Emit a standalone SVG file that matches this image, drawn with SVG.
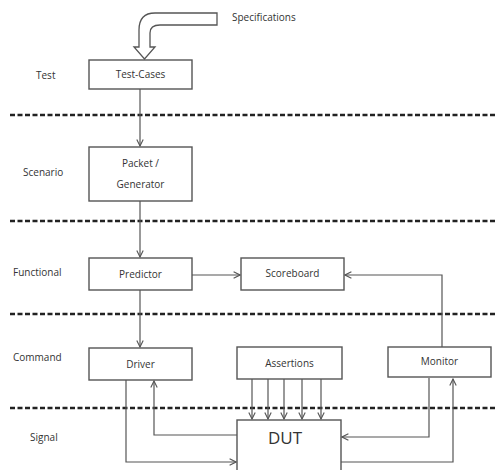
<svg xmlns="http://www.w3.org/2000/svg" width="496" height="470" viewBox="0 0 496 470">
<defs>
<marker id="arr" viewBox="0 0 10 10" refX="9" refY="5" markerWidth="8" markerHeight="8" markerUnits="userSpaceOnUse" orient="auto">
<path d="M1,1 L9,5 L1,9" fill="none" stroke="#555" stroke-width="1.4"/>
</marker>
<style>
.box{fill:#fff;stroke:#555;stroke-width:1.4}
.t{font-family:"Open Sans","Liberation Sans",sans-serif;font-size:10px;fill:#333}
.c{text-anchor:middle}
.ln{fill:none;stroke:#555;stroke-width:1.2}
.dash{stroke:#222;stroke-width:2.5;stroke-dasharray:5,2.5}
</style>
</defs>
<rect width="496" height="470" fill="#fff"/>
<g id="layers">
<line class="dash" x1="10" y1="115" x2="496" y2="115"/>
<line class="dash" x1="10" y1="221" x2="496" y2="221"/>
<line class="dash" x1="10" y1="314" x2="496" y2="314"/>
<line class="dash" x1="10" y1="408" x2="496" y2="408"/>
<text class="t" x="36" y="79">Test</text>
<text class="t" x="23" y="176">Scenario</text>
<text class="t" x="13" y="276">Functional</text>
<text class="t" x="13" y="361">Command</text>
<text class="t" x="30" y="441">Signal</text>
</g>
<g id="specifications">
<path d="M217,13 L155,13 Q139,13 139,30 L139,47 L134,47 L144.5,59 L155,47 L150,47 L150,33 Q150,25 160,25 L217,25 Z" fill="#fff" stroke="#555" stroke-width="1.3"/>
<text class="t" x="232" y="21">Specifications</text>
</g>
<g id="connectors">
<line class="ln" x1="140" y1="89" x2="140" y2="146" marker-end="url(#arr)"/>
<line class="ln" x1="140" y1="201" x2="140" y2="257" marker-end="url(#arr)"/>
<line class="ln" x1="140" y1="290" x2="140" y2="347" marker-end="url(#arr)"/>
<line class="ln" x1="192" y1="275" x2="240" y2="275" marker-end="url(#arr)"/>
<polyline class="ln" points="442,347 442,275 345,275" marker-end="url(#arr)"/>
<line class="ln" x1="252" y1="379" x2="252" y2="419" marker-end="url(#arr)"/>
<line class="ln" x1="268" y1="379" x2="268" y2="419" marker-end="url(#arr)"/>
<line class="ln" x1="284" y1="379" x2="284" y2="419" marker-end="url(#arr)"/>
<line class="ln" x1="302" y1="379" x2="302" y2="419" marker-end="url(#arr)"/>
<line class="ln" x1="321" y1="379" x2="321" y2="419" marker-end="url(#arr)"/>
<polyline class="ln" points="126,380 126,462 236,462" marker-end="url(#arr)"/>
<polyline class="ln" points="237,435 154,435 154,381" marker-end="url(#arr)"/>
<polyline class="ln" points="429,378 429,437 342,437" marker-end="url(#arr)"/>
<polyline class="ln" points="341,462 453,462 453,379" marker-end="url(#arr)"/>
</g>
<g id="test-cases">
<rect class="box" x="89" y="60" width="103" height="29"/>
<text class="t c" x="140.5" y="78">Test-Cases</text>
</g>
<g id="packet-generator">
<rect class="box" x="89" y="147" width="103" height="54"/>
<text class="t c" x="140.5" y="167">Packet /</text>
<text class="t c" x="140.5" y="188">Generator</text>
</g>
<g id="predictor">
<rect class="box" x="89" y="258" width="103" height="32"/>
<text class="t c" x="140.5" y="278">Predictor</text>
</g>
<g id="scoreboard">
<rect class="box" x="241" y="258" width="103" height="32"/>
<text class="t c" x="292.5" y="277">Scoreboard</text>
</g>
<g id="driver">
<rect class="box" x="89" y="348" width="103" height="32"/>
<text class="t c" x="140.5" y="368">Driver</text>
</g>
<g id="assertions">
<rect class="box" x="237" y="347" width="105" height="32"/>
<text class="t c" x="289.5" y="367">Assertions</text>
</g>
<g id="monitor">
<rect class="box" x="388" y="347" width="103" height="30"/>
<text class="t c" x="439.5" y="365">Monitor</text>
</g>
<g id="dut">
<rect class="box" x="237" y="420" width="104" height="60"/>
<text class="t c" x="285" y="444" style="font-size:17px">DUT</text>
</g>
</svg>
